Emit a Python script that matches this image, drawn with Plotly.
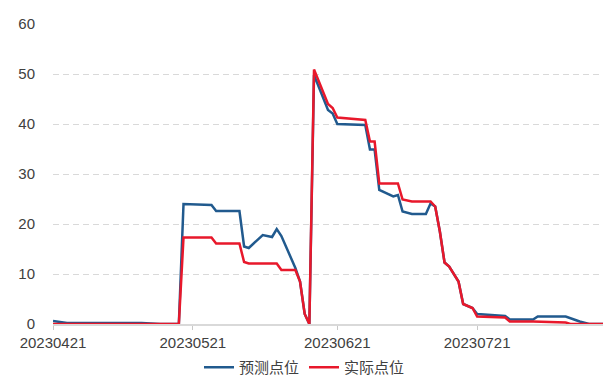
import plotly.graph_objects as go

# ---- data ----
pred_dates = [
    "2023-04-21", "2023-04-24", "2023-05-10", "2023-05-14", "2023-05-18",
    "2023-05-19", "2023-05-25", "2023-05-26", "2023-05-31", "2023-06-01",
    "2023-06-02", "2023-06-05", "2023-06-07", "2023-06-08", "2023-06-09",
    "2023-06-12", "2023-06-13", "2023-06-14", "2023-06-15", "2023-06-16",
    "2023-06-19", "2023-06-20", "2023-06-21", "2023-06-27", "2023-06-28",
    "2023-06-29", "2023-06-30", "2023-07-03", "2023-07-04", "2023-07-05",
    "2023-07-07", "2023-07-10", "2023-07-11", "2023-07-12", "2023-07-13",
    "2023-07-14", "2023-07-15", "2023-07-17", "2023-07-18", "2023-07-20",
    "2023-07-21", "2023-07-27", "2023-07-28", "2023-08-02", "2023-08-03",
    "2023-08-09", "2023-08-12", "2023-08-14", "2023-08-17",
]
pred_values = [
    0.6, 0.2, 0.2, 0.0, 0.0,
    24.0, 23.8, 22.6, 22.6, 15.5,
    15.2, 17.8, 17.4, 19.0, 17.6,
    11.2, 8.5, 2.0, 0.0, 49.8,
    42.8, 42.1, 40.0, 39.8, 34.9,
    34.9, 26.8, 25.5, 25.8, 22.5,
    22.0, 22.0, 24.1, 23.5, 18.5,
    12.3, 11.5, 8.5, 4.0, 3.2,
    2.0, 1.6, 0.9, 0.9, 1.5,
    1.5, 0.5, 0.0, 0.0,
]

actual_dates = [
    "2023-04-21", "2023-05-18", "2023-05-19", "2023-05-25", "2023-05-26",
    "2023-05-31", "2023-06-01", "2023-06-02", "2023-06-08", "2023-06-09",
    "2023-06-12", "2023-06-13", "2023-06-14", "2023-06-15", "2023-06-16",
    "2023-06-19", "2023-06-20", "2023-06-21", "2023-06-27", "2023-06-28",
    "2023-06-29", "2023-06-30", "2023-07-04", "2023-07-05", "2023-07-07",
    "2023-07-11", "2023-07-12", "2023-07-13", "2023-07-14", "2023-07-15",
    "2023-07-17", "2023-07-18", "2023-07-20", "2023-07-21", "2023-07-27",
    "2023-07-28", "2023-08-02", "2023-08-09", "2023-08-10", "2023-08-17",
]
actual_values = [
    0.0, 0.0, 17.3, 17.3, 16.1,
    16.1, 12.4, 12.1, 12.1, 10.8,
    10.8, 8.5, 2.0, 0.0, 50.9,
    44.0, 43.2, 41.3, 40.8, 36.5,
    36.5, 28.1, 28.1, 24.9, 24.5,
    24.5, 23.5, 18.5, 12.3, 11.5,
    8.5, 4.0, 3.2, 1.5, 1.3,
    0.5, 0.5, 0.3, 0.0, 0.0,
]

tick_dates = ["2023-04-21", "2023-05-21", "2023-06-21", "2023-07-21"]
tick_labels = ["20230421", "20230521", "20230621", "20230721"]
y_ticks = [0, 10, 20, 30, 40, 50, 60]

series_names = ["预测点位", "实际点位"]
BLUE = "#215A8E"
RED = "#E8182B"

fig = go.Figure()
fig.add_trace(go.Scatter(
    x=pred_dates, y=pred_values, mode="lines", name=series_names[0],
    line=dict(color=BLUE, width=2.5),
))
fig.add_trace(go.Scatter(
    x=actual_dates, y=actual_values, mode="lines", name=series_names[1],
    line=dict(color=RED, width=2.5),
))

fig.update_layout(
    width=609, height=384,
    margin=dict(l=53, r=6, t=24, b=60, autoexpand=False),
    paper_bgcolor="white", plot_bgcolor="white",
    font=dict(family="Liberation Sans, Arial, Noto Sans CJK SC", size=15, color="#404040"),
    showlegend=True,
    legend=dict(
        orientation="h", xref="container", yref="container",
        x=0.5, xanchor="center", y=0.0, yanchor="bottom",
        font=dict(family="Noto Sans CJK SC", size=15, color="#404040"),
        itemwidth=30, tracegroupgap=0,
    ),
    xaxis=dict(
        type="date",
        range=["2023-04-21", "2023-08-17"],
        tickvals=tick_dates, ticktext=tick_labels,
        showgrid=False, zeroline=False,
        showline=True, linecolor="#D9D9D9", linewidth=1.5,
        ticks="outside", ticklen=4, tickcolor="#C8C8C8", tickwidth=1,
        tickfont=dict(size=15, color="#404040"),
    ),
    yaxis=dict(
        range=[0, 60], tickvals=y_ticks,
        showgrid=True, gridcolor="#D9D9D9", gridwidth=1, griddash="6px,4px",
        zeroline=False, showline=False,
        ticks="", ticklabelstandoff=17,
        tickfont=dict(size=15, color="#404040"),
    ),
)

fig.write_html("out.html")
